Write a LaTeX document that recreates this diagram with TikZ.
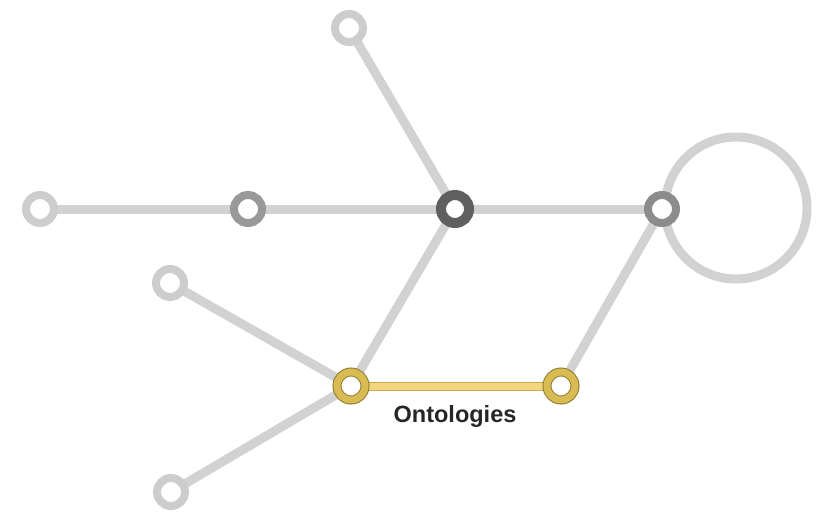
\documentclass[tikz,border=0pt]{standalone}
\usepackage{fontspec}
\setmainfont{Liberation Sans}
\usetikzlibrary{backgrounds}
\definecolor{edgegrey}{HTML}{D2D2D2}
\definecolor{lightring}{HTML}{CDCDCD}
\definecolor{midring}{HTML}{999999}
\definecolor{midring2}{HTML}{8C8C8C}
\definecolor{darkring}{HTML}{5F5F5F}
\definecolor{yelring}{HTML}{D8BB52}
\definecolor{yeldark}{HTML}{8F7C30}
\definecolor{yelline}{HTML}{F2D680}
\definecolor{yellinedark}{HTML}{C9AB4A}
\tikzset{
  ring/.style={circle, inner sep=0pt, minimum size=28pt, fill=white, line width=8pt},
  lightnode/.style={ring, draw=lightring},
  midnode/.style={ring, draw=midring},
  midnodeb/.style={ring, draw=midring2},
  darknode/.style={ring, draw=darkring, line width=10pt},
  yelnode/.style={ring, draw=yeldark, line width=1pt, double=yelring, double distance=7pt},
  greyedge/.style={draw=edgegrey, line width=9pt},
  yeledge/.style={draw=yellinedark, line width=1pt, double=yelline, double distance=7pt},
  lbl/.style={font=\bfseries\fontsize{23.5}{26}\selectfont, text=black!85}
}
\begin{document}
\begin{tikzpicture}[x=1pt,y=-1pt]
\useasboundingbox (0,0) rectangle (820,512);
\node[lightnode] (l1) at (40,209) {};
\node[midnode] (m1) at (248,209) {};
\node[darknode] (c) at (455,209) {};
\node[midnodeb] (m2) at (662,209) {};
\node[lightnode] (top) at (349,28) {};
\node[lightnode] (l2) at (170,283) {};
\node[lightnode] (l3) at (171,492) {};
\node[yelnode] (y1) at (351,386) {};
\node[yelnode] (y2) at (561,386) {};
\coordinate (loopc) at (736,208);
\node[lbl] (label) at (455,416) {Ontologies};
\begin{scope}[on background layer]
\draw[greyedge] (l1.center) -- (m1.center) -- (c.center) -- (m2.center);
\draw[greyedge] (top.center) -- (c.center);
\draw[greyedge] (c.center) -- (y1.center);
\draw[greyedge] (l2.center) -- (y1.center);
\draw[greyedge] (l3.center) -- (y1.center);
\draw[greyedge] (y2.center) -- (m2.center);
\draw[greyedge] (loopc) circle (71);
\draw[yeledge] (y1.center) -- (y2.center);
\end{scope}
\end{tikzpicture}
\end{document}
